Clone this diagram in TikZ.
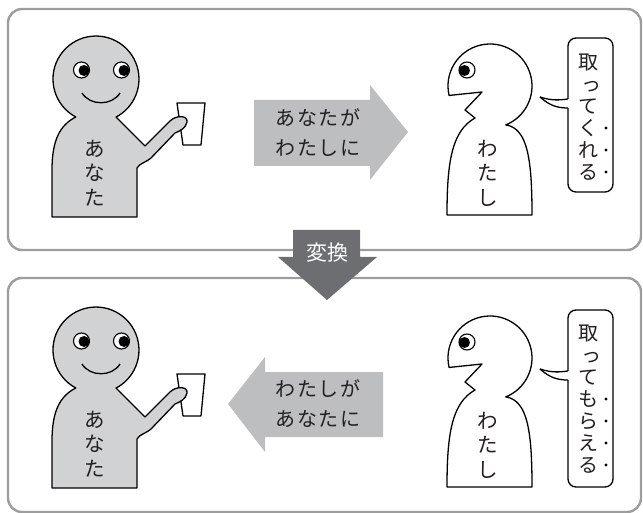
\documentclass[tikz,border=0pt]{standalone}
\usepackage{fontspec}
\newfontfamily\jp{Noto Sans CJK JP}
\definecolor{skin}{RGB}{209,210,212}
\definecolor{arrowlight}{RGB}{188,190,192}
\definecolor{arrowdark}{RGB}{109,110,113}
\definecolor{framegray}{RGB}{157,157,157}
\definecolor{ink}{RGB}{35,31,32}
\tikzset{
  panel/.style={draw=framegray, line width=2.4, rounded corners=14},
  outline/.style={draw=black, line width=1.3, line join=round},
  vtext/.style={font=\jp\fontsize{20.5}{24.5}\selectfont, text=ink, align=center, inner sep=0},
  htext/.style={font=\jp\fontsize{20}{30}\selectfont\addfontfeatures{LetterSpace=8}, text=ink, align=center, inner sep=0},
  bubbletext/.style={font=\jp\fontsize{20}{22}\selectfont, text=ink, align=center, inner sep=0},
  bubble/.style={draw=black, line width=1.3, fill=white, rounded corners=8},
  dot/.style={fill=black, draw=none},
  % the smiling figure holding a cup, origin at the head centre
  you/.pic={
    \draw[outline, fill=white] (81,24) -- (109,24) -- (105,66) -- (87,66) -- cycle;
    \draw[outline, fill=skin] (20,38) -- (49,67) -- (74,42)
      .. controls (80,36) and (92,36) .. (91,43)
      .. controls (90,49) and (84,52) .. (79,54) -- (55,79)
      .. controls (49,84) and (44,84) .. (41,89) -- (41,138) -- (-44,138) -- (-44,91)
      .. controls (-44,61) and (-36,46) .. (-20.2,38)
      arc[start angle=118, end angle=422, radius=43] -- cycle;
    \foreach \ex in {-14.5,25.5}{
      \draw[line width=1.1, fill=white] (\ex,-9) circle[radius=8];
      \fill[black] (\ex+2.5,-8.5) circle[radius=5.5];
    }
    \draw[line width=1.3] (-14,14) .. controls (-6,27) and (16,27) .. (24,14);
    \node[vtext] (-label) at (-1,94) {あ\\な\\た};
  },
  % the figure with an open mouth, origin at the head centre
  me/.pic={
    \draw[outline, fill=white] (167:42) arc[start angle=167, end angle=428, radius=42]
      .. controls (38,42) and (42,75) .. (42,129) -- (-43,129)
      .. controls (-43,75) and (-38,45) .. (-15,32)
      -- (-25,24) -- (-8,6) -- cycle;
    \draw[line width=1.1, fill=white] (-23,-16) circle[radius=8];
    \fill[black] (-25.5,-15.5) circle[radius=5.5];
    \node[vtext] (-label) at (-2,87) {わ\\た\\し};
  }
}
\begin{document}
\begin{tikzpicture}[x=1pt, y=-1pt]
\useasboundingbox (0,0) rectangle (643,513);

% the two frames
\draw[panel] (8,9) rectangle (641,250);
\draw[panel] (8,278) rectangle (641,512);

% upper frame
\pic (youA) at (96,79) {you};
\pic (meA) at (490,86) {me};
\draw[fill=arrowlight, draw=none] (254,100) -- (370,100) -- (370,85) -- (408,132)
  -- (370,180) -- (370,166) -- (254,166) -- cycle;
\node[htext] (giveA) at (318,133) {あなたが\\わたしに};

\draw[bubble] (568,38) rectangle (613,192);
\fill[white] (540,97) .. controls (552,101) and (560,100) .. (569,99) -- (569,108)
  .. controls (558,108) and (550,106) .. (540,97);
\draw[line width=1.3] (540,97) .. controls (552,101) and (560,100) .. (568,99);
\draw[line width=1.3] (540,97) .. controls (550,106) and (558,108) .. (568,108);
\node[bubbletext] (sayA) at (588,117) {取\\{\hspace*{6pt}っ}\\て\\く\\れ\\る};
\foreach \dy in {128,150,172}
  \fill[dot] (606,\dy) circle[radius=1.7];

% lower frame
\pic (youB) at (96,350) {you};
\pic (meB) at (490,358) {me};
\draw[fill=arrowlight, draw=none] (383,372) -- (265,372) -- (265,357) -- (228,404)
  -- (265,452) -- (265,437) -- (383,437) -- cycle;
\node[htext] (giveB) at (318,404) {わたしが\\あなたに};

\draw[bubble] (568,310) rectangle (613,487);
\fill[white] (540,369) .. controls (552,373) and (560,372) .. (569,371) -- (569,380)
  .. controls (558,380) and (550,378) .. (540,369);
\draw[line width=1.3] (540,369) .. controls (552,373) and (560,372) .. (568,371);
\draw[line width=1.3] (540,369) .. controls (550,378) and (558,380) .. (568,380);
\node[bubbletext] (sayB) at (588,399) {取\\{\hspace*{6pt}っ}\\て\\も\\ら\\え\\る};
\foreach \dy in {399,421,443,465}
  \fill[dot] (606,\dy) circle[radius=1.7];

% conversion arrow between the frames
\draw[fill=arrowdark, draw=none] (293,230) -- (360,230) -- (360,257) -- (377,257)
  -- (327,300) -- (278,257) -- (293,257) -- cycle;
\node[font=\jp\fontsize{21}{21}\selectfont, text=white, inner sep=0] (convert) at (327,253) {変換};
\end{tikzpicture}
\end{document}
